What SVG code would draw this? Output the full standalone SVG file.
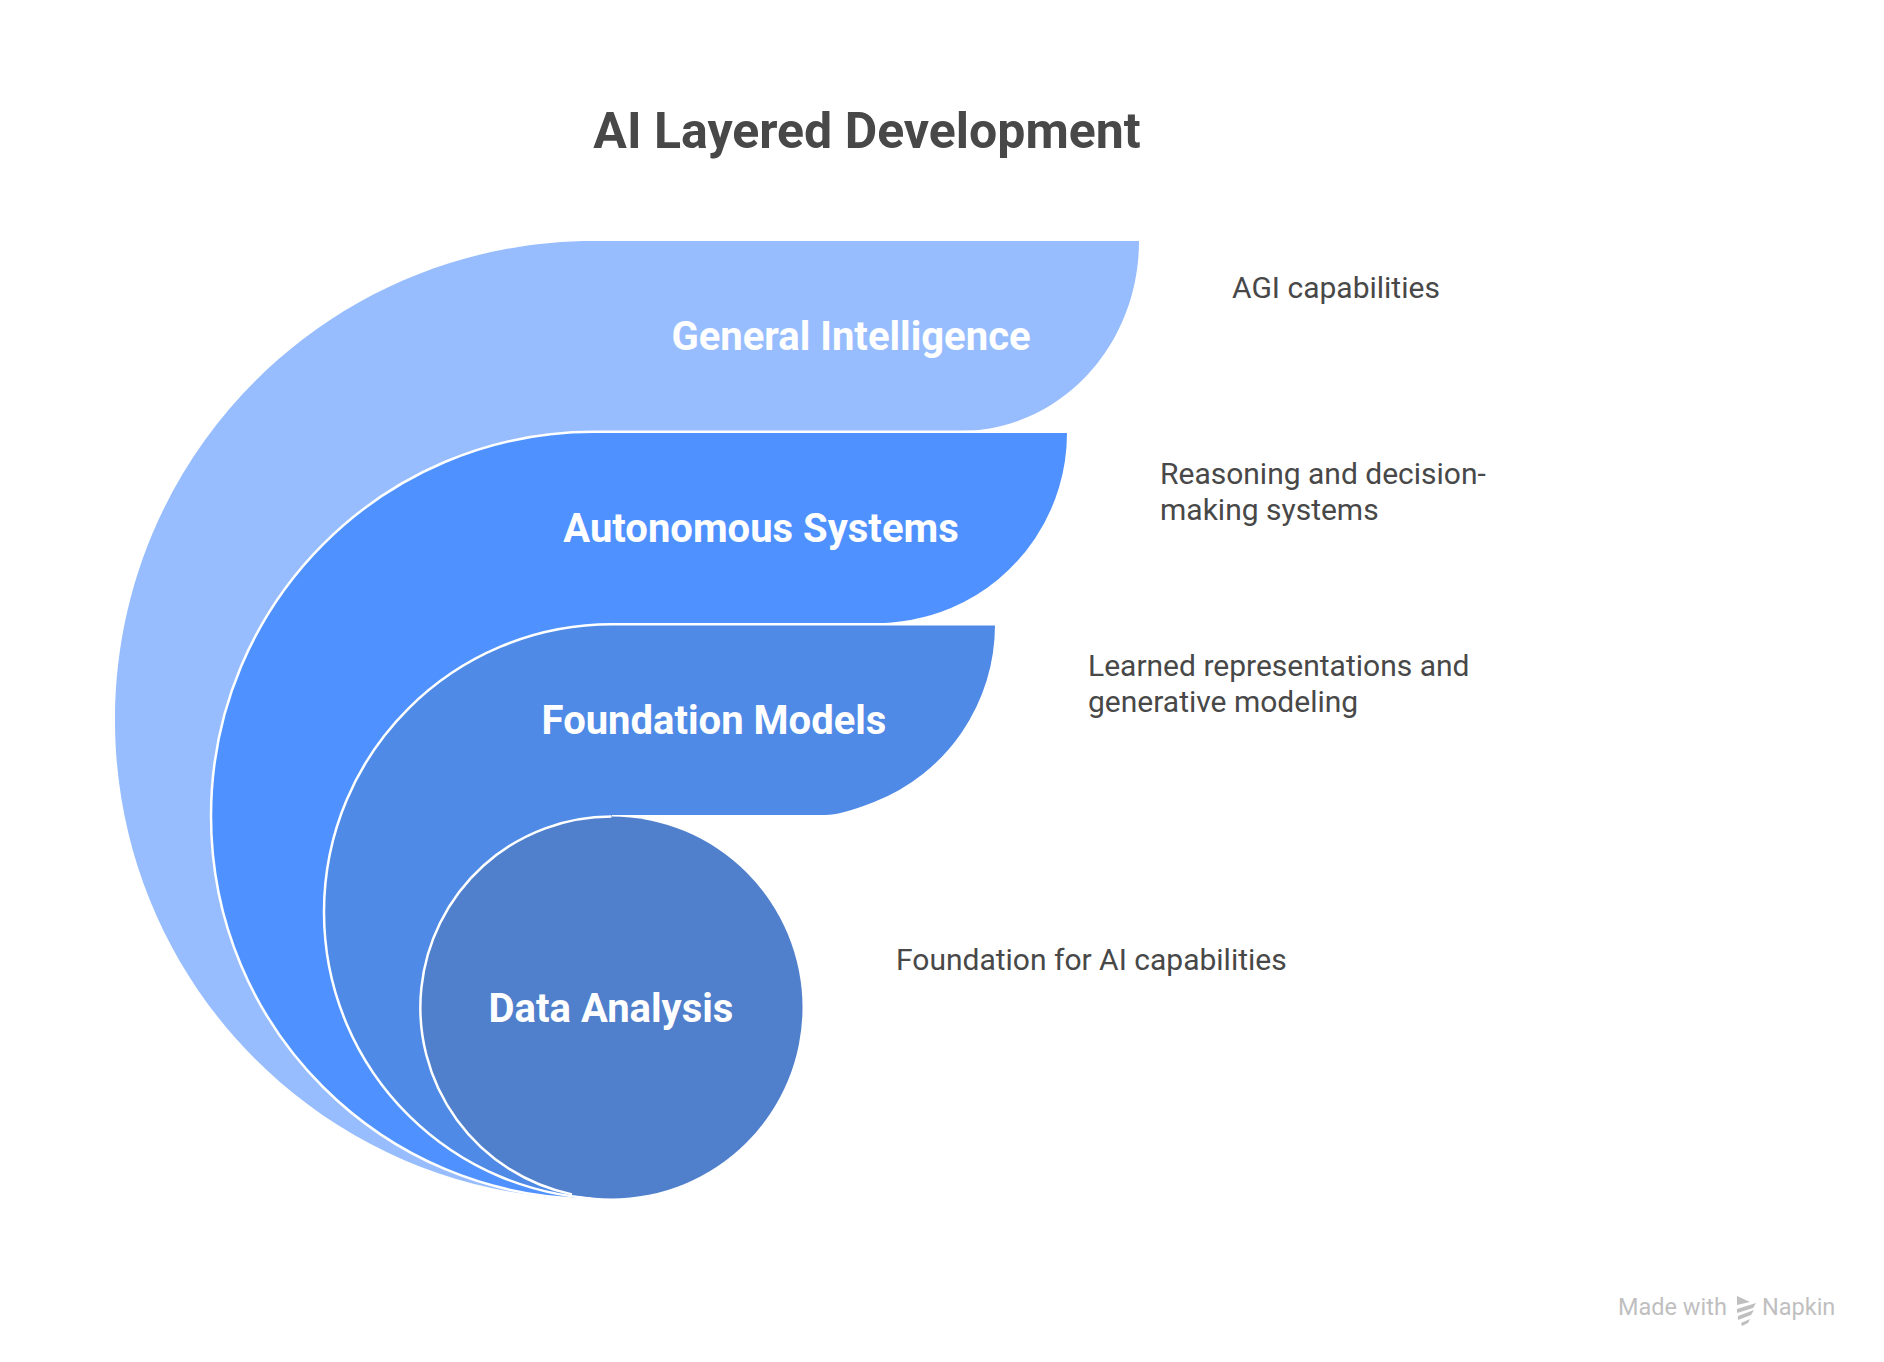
<svg xmlns="http://www.w3.org/2000/svg" width="1884" height="1362" viewBox="0 0 1884 1362">
<style>
text{font-family:Roboto,"Liberation Sans",sans-serif}
.t{font-size:50px;font-weight:700;fill:#484848}
.l{font-size:40px;font-weight:700;fill:#fff}
.d{font-size:30px;fill:#484848}
.s{stroke:#fff;stroke-width:2.5;fill:none}
.w{font-size:23.5px;fill:#bfbfbf}
</style>
<rect width="1884" height="1362" fill="#fff"/>
<text class="t" x="867" y="148" text-anchor="middle">AI Layered Development</text>
<g id="general">
<path d="M1139 241C1139 346 1060 431 960 431L594 431L594 1199C329 1199 115 985 115 720C115 455 329 241 594 241Z" fill="#97bdff"/>
<text class="l" x="851" y="350" text-anchor="middle">General Intelligence</text>
<text class="d" x="1232" y="298">AGI capabilities</text>
</g>
<g id="autonomous">
<path d="M1067 433A190 190 0 0 1 951 608Q914 623.5 870 623.5L612 625L612 1199L594 1199C382 1199 211 1028 211 816C211 604 382 432 594 432L1067 432Z" fill="#4f92ff"/>
<path class="s" d="M1068 431.8L594 431.8C382 431.8 211 604 211 816C211 1028 382 1199 594 1199"/>
<text class="l" x="761" y="542" text-anchor="middle">Autonomous Systems</text>
<text class="d" x="1160" y="484">Reasoning and decision-</text>
<text class="d" x="1160" y="520">making systems</text>
</g>
<g id="foundation">
<path d="M995 625A190 190 0 0 1 874 802Q841 815 825 815L612 815L612 1199C453 1199 324 1071 324 912C324 753 453 625 612 625Z" fill="#4f8ae6"/>
<path class="s" d="M996 624.3L612 624.3C453 624.3 324 753 324 912C324 1071 453 1199 612 1199"/>
<text class="l" x="714" y="734" text-anchor="middle">Foundation Models</text>
<text class="d" x="1088" y="676">Learned representations and</text>
<text class="d" x="1088" y="712">generative modeling</text>
</g>
<g id="data">
<circle cx="611.5" cy="1007.5" r="191" fill="#5080cc"/>
<path class="s" d="M611.5 816.5A191 191 0 0 0 572 1194.4"/>
<text class="l" x="611" y="1022" text-anchor="middle">Data Analysis</text>
<text class="d" x="896" y="970">Foundation for AI capabilities</text>
</g>
<g id="watermark">
<text class="w" x="1618" y="1315">Made with</text>
<path d="M1737 1296l13 6-13 3zM1737 1309l19-6-3 5-16 5zM1738 1316l16-6-3 5-13 5zM1741 1323l9-4-2 4-6 3z" fill="#bfbfbf"/>
<text class="w" x="1762" y="1315">Napkin</text>
</g>
</svg>
